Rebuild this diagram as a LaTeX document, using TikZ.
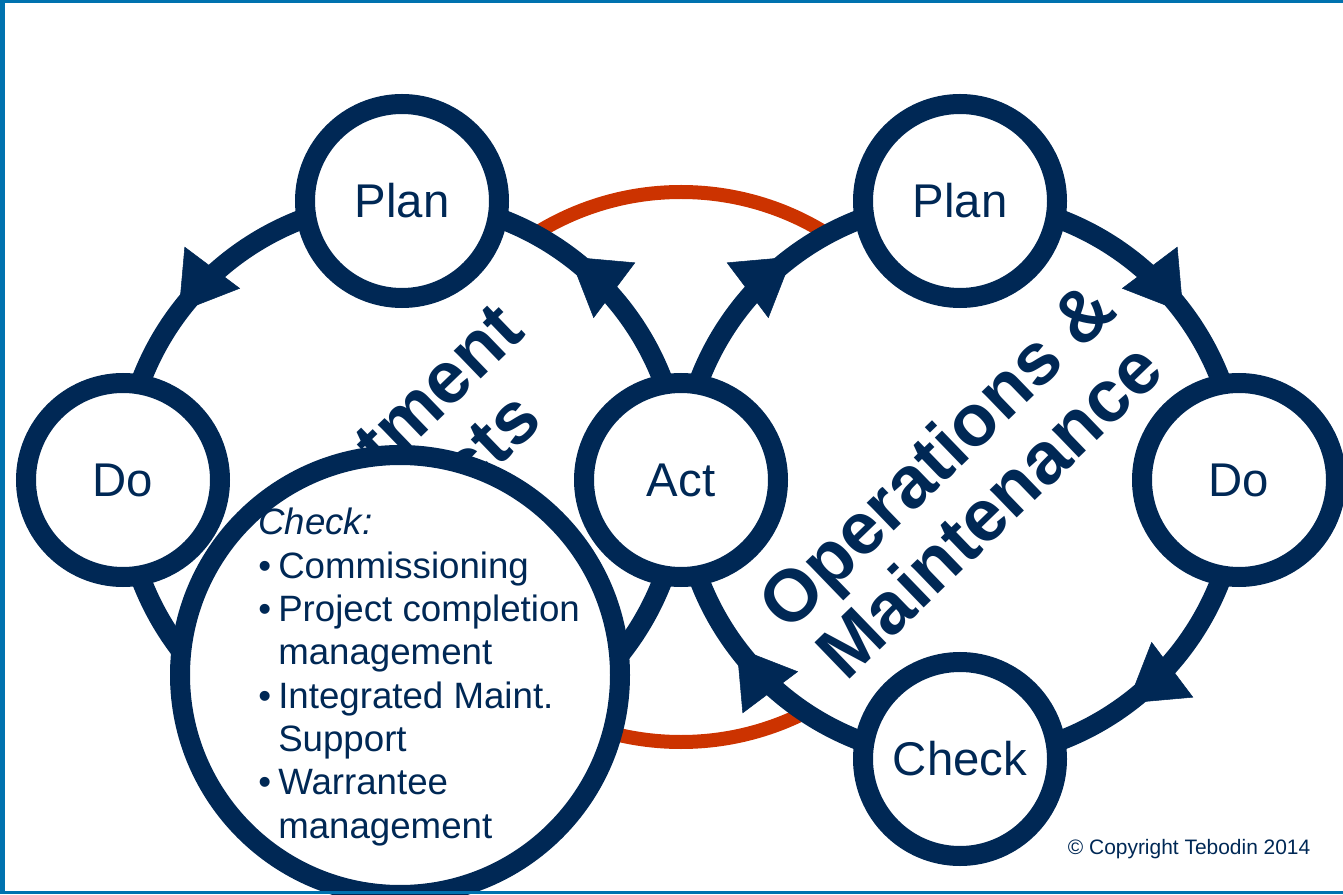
\documentclass[tikz,border=0pt]{standalone}
\usepackage{fontspec}
\setmainfont{Liberation Sans}
\usetikzlibrary{arrows.meta,decorations.markings}
\definecolor{navy}{RGB}{0,40,85}
\definecolor{rust}{RGB}{204,51,0}
\definecolor{frameblue}{RGB}{0,114,175}
\pgfdeclarelayer{back}
\pgfsetlayers{back,main}
\newcommand{\listbullet}{\makebox[15pt][l]{•}}
\newcommand{\listindent}{\hspace*{15pt}}

\begin{document}
\begin{tikzpicture}[x=0.75pt,y=0.75pt,
		phase/.style={circle,draw=navy,fill=white,line width=15pt,
			minimum size=145.5pt,inner sep=0pt,text=navy,
			font=\fontsize{35.5}{40}\selectfont},
		ring/.style={draw=navy,line width=15pt},
		flow/.style={ring,postaction={decorate},
			decoration={markings,mark=at position 0.59 with
				{\arrow{Triangle[length=42pt,width=52pt,line width=0.4pt]}}}},
		cycletitle/.style={text=navy,rotate=44,align=center,
			font=\fontsize{55}{57}\selectfont\bfseries}]

		\useasboundingbox (0,0) rectangle (1343,894);

		% centres of the two cycles
		\coordinate (lc) at (402,414);
		\coordinate (rc) at (960,414);
		\coordinate (lbot) at (402,135);

		\node[phase] (act) at (681,414) {Act};
		\node[phase] (lplan) at (402,693) {Plan};
		\node[phase] (ldo) at (123,414) {Do};
		\node[phase] (rplan) at (960,693) {Plan};
		\node[phase] (rdo) at (1239,414) {Do};
		\node[phase] (rcheck) at (960,135) {Check};

		\node[phase,
			minimum size=330pt
		] (lcheck) at (400,219) {};

		\node[text=navy,
			anchor=west,
			align=left,
			inner sep=0pt,
			font=\fontsize{27.5}{32.5}\selectfont
		] (checklist) at (258,217) {\textit{Check:}\\
			\listbullet Commissioning\\
			\listbullet Project completion\\
			\listindent management\\
			\listbullet Integrated Maint.\\
			\listindent Support\\
			\listbullet Warrantee\\
			\listindent management};

		\begin{pgfonlayer}{back}
			\draw[rust,line width=10.5pt] (681,427) circle (275);
			\fill[white] (lc) circle (279);
			\fill[white] (rc) circle (279);

			\node[cycletitle] (ltitle) at (402,410) {Investment\\Projects};
			\node[cycletitle] (rtitle) at (962,412) {Operations \&\\Maintenance};

			% left cycle
			\draw[flow] (act.center) to[out=90,in=0] (lplan.center);
			\draw[flow] (lplan.center) to[out=180,in=90] (ldo.center);
			\draw[ring] (ldo.center) to[out=270,in=180] (lbot)
			to[out=0,in=270] (act.center);

			% right cycle
			\draw[flow] (act.center) to[out=90,in=180] (rplan.center);
			\draw[flow] (rplan.center) to[out=0,in=90] (rdo.center);
			\draw[flow] (rdo.center) to[out=270,in=0] (rcheck.center);
			\draw[flow] (rcheck.center) to[out=180,in=270] (act.center);
		\end{pgfonlayer}

		\node[anchor=east,
			text=navy,
			font=\fontsize{15.7}{18}\selectfont
		] (copy) at (1315,45) {© Copyright Tebodin 2014};

		% frame
		\fill[frameblue] (0,0) rectangle (5,894);
		\fill[frameblue] (0,891) rectangle (1343,894);
		\fill[frameblue] (0,0) rectangle (1343,3);
	\end{tikzpicture}
\end{document}
